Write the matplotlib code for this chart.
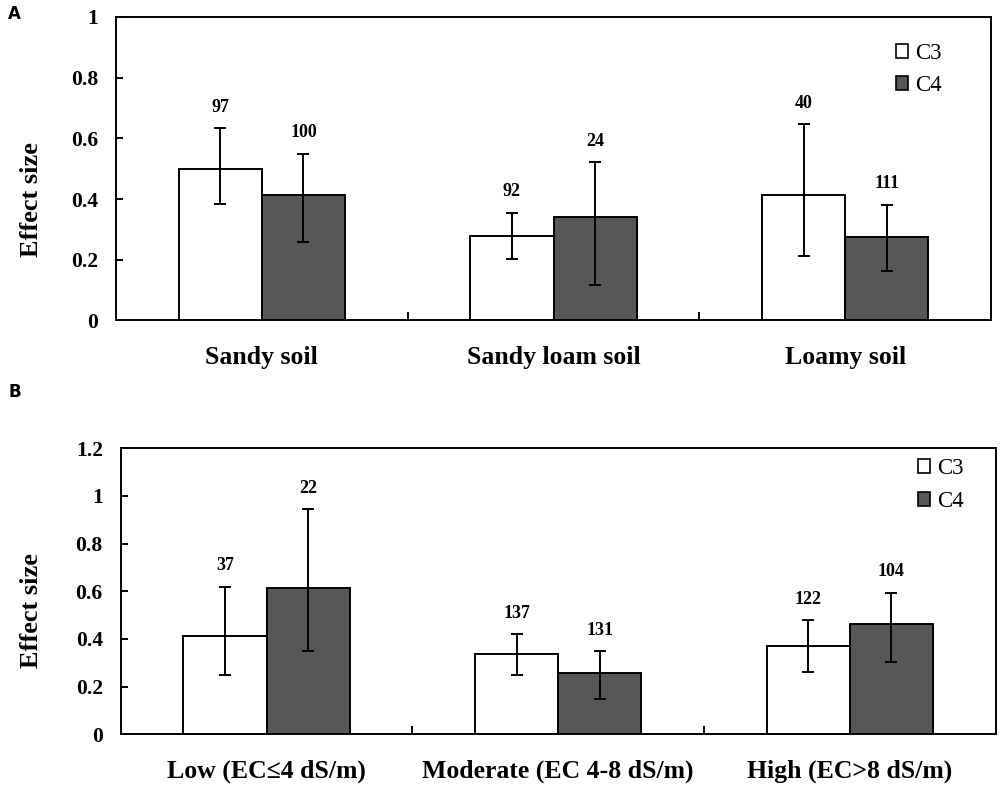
import numpy as np
import matplotlib
matplotlib.use('Agg')
import matplotlib.pyplot as plt
from matplotlib.patches import Patch
from matplotlib.ticker import FuncFormatter

plt.rcParams['font.family'] = ['Liberation Serif', 'DejaVu Serif']
plt.rcParams['font.weight'] = 'bold'

# panel A: soil texture
soil_cats = ['Sandy soil', 'Sandy loam soil', 'Loamy soil']
soil_c3 = [0.50, 0.28, 0.415]
soil_c3_lo = [0.383, 0.204, 0.212]
soil_c3_hi = [0.634, 0.355, 0.646]
soil_c3_n = ['97', '92', '40']
soil_c4 = [0.415, 0.342, 0.275]
soil_c4_lo = [0.258, 0.118, 0.163]
soil_c4_hi = [0.55, 0.521, 0.382]
soil_c4_n = ['100', '24', '111']

# panel B: salinity
sal_cats = ['Low (EC≤4 dS/m)', 'Moderate (EC 4-8 dS/m)', 'High (EC>8 dS/m)']
sal_c3 = [0.414, 0.336, 0.371]
sal_c3_lo = [0.249, 0.249, 0.263]
sal_c3_hi = [0.619, 0.420, 0.480]
sal_c3_n = ['37', '137', '122']
sal_c4 = [0.613, 0.256, 0.463]
sal_c4_lo = [0.350, 0.148, 0.305]
sal_c4_hi = [0.944, 0.350, 0.594]
sal_c4_n = ['22', '131', '104']

dark = '#575757'
w = 0.285

fig = plt.figure(figsize=(10, 7.89), dpi=100)
axA = fig.add_axes([0.116, 0.5938, 0.875, 0.3847])
axB = fig.add_axes([0.1207, 0.0693, 0.875, 0.3625])


def draw(ax, cats, c3, c3lo, c3hi, c3n, c4, c4lo, c4hi, c4n, ymax, ystep, ylab_xy, leg_xy):
    x = np.arange(len(cats))
    ek = dict(ecolor='black', elinewidth=1.4, capsize=4, capthick=1.4)
    e3 = [np.array(c3) - np.array(c3lo), np.array(c3hi) - np.array(c3)]
    e4 = [np.array(c4) - np.array(c4lo), np.array(c4hi) - np.array(c4)]
    ax.bar(x - w / 2, c3, w, color='white', edgecolor='black', linewidth=1.4,
           yerr=e3, error_kw=ek, zorder=2)
    ax.bar(x + w / 2, c4, w, color=dark, edgecolor='black', linewidth=1.4,
           yerr=e4, error_kw=ek, zorder=2)
    for xi, top, lab in zip(x - w / 2, c3hi, c3n):
        ax.annotate(lab, (xi, top), xytext=(0, 15), textcoords='offset points',
                    ha='center', va='center', fontsize=13, fontweight='bold')
    for xi, top, lab in zip(x + w / 2, c4hi, c4n):
        ax.annotate(lab, (xi, top), xytext=(0, 15), textcoords='offset points',
                    ha='center', va='center', fontsize=13, fontweight='bold')

    ax.set_xlim(-0.5, len(cats) - 0.5)
    ax.set_ylim(0, ymax)
    ax.set_yticks(np.arange(0, ymax + 1e-9, ystep))
    ax.yaxis.set_major_formatter(FuncFormatter(lambda v, p: '%g' % round(v, 2)))
    ax.set_xticks(x)
    ax.set_xticklabels(cats, fontsize=18.5, fontweight='bold')
    ax.set_xticks([0.5, 1.5], minor=True)
    ax.tick_params(axis='x', which='major', length=0, pad=18.5)
    ax.tick_params(axis='x', which='minor', direction='in', length=6, width=1.4)
    ax.tick_params(axis='y', direction='in', length=5, width=1.4, pad=13, labelsize=15.5)
    for t in ax.get_yticklabels():
        t.set_fontweight('bold')
    for s in ax.spines.values():
        s.set_linewidth(1.4)
    ax.set_ylabel('Effect size', fontsize=19, fontweight='bold')
    ax.yaxis.set_label_coords(*ylab_xy)

    handles = [Patch(facecolor='white', edgecolor='black', linewidth=1.2, label='C3'),
               Patch(facecolor=dark, edgecolor='black', linewidth=1.2, label='C4')]
    ax.legend(handles=handles, loc='upper left', bbox_to_anchor=leg_xy,
              frameon=False, borderpad=0, borderaxespad=0,
              handlelength=0.55, handleheight=0.55, handletextpad=0.3,
              labelspacing=0.5, prop={'size': 16.5, 'weight': 'normal'})


draw(axA, soil_cats, soil_c3, soil_c3_lo, soil_c3_hi, soil_c3_n,
     soil_c4, soil_c4_lo, soil_c4_hi, soil_c4_n, 1.0, 0.2, (-0.083, 0.397), (0.891, 0.915))
draw(axB, sal_cats, sal_c3, sal_c3_lo, sal_c3_hi, sal_c3_n,
     sal_c4, sal_c4_lo, sal_c4_hi, sal_c4_n, 1.2, 0.2, (-0.089, 0.431), (0.911, 0.965))

fig.text(0.008, 0.982, 'A', fontsize=12, fontweight='bold', family='DejaVu Sans', va='center')
fig.text(0.008, 0.503, 'B', fontsize=12, fontweight='bold', family='DejaVu Sans', va='center')

plt.savefig('out.png', dpi=100)
